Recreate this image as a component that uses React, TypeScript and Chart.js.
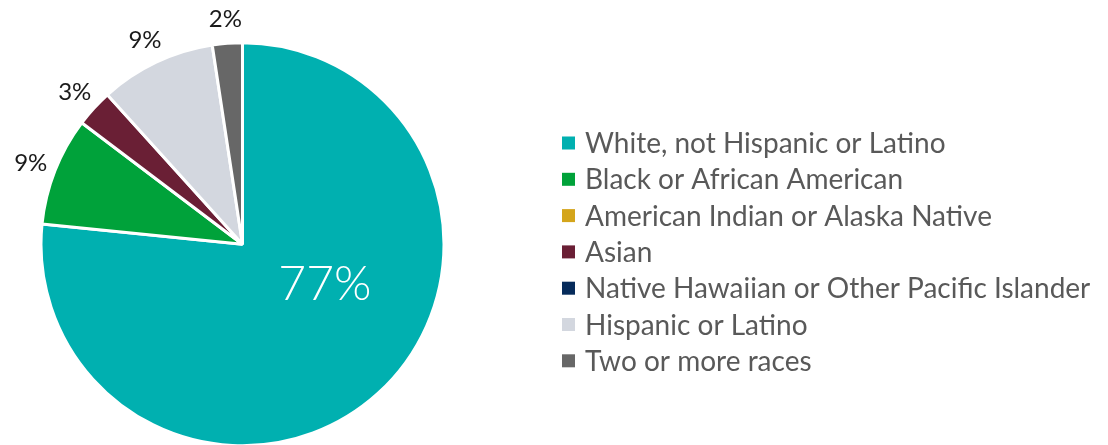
import React, { useEffect, useRef } from "react";
import { Chart, registerables } from "chart.js";
Chart.register(...registerables);

const categories = [
  "White, not Hispanic or Latino",
  "Black or African American",
  "American Indian or Alaska Native",
  "Asian",
  "Native Hawaiian or Other Pacific Islander",
  "Hispanic or Latino",
  "Two or more races",
];
const values = [76.6, 8.7, 0, 3.0, 0, 9.3, 2.4];
const valueLabels = ["77%", "9%", "", "3%", "", "9%", "2%"];
const colors = ["#00B0B0", "#00A23A", "#D4A51B", "#6A1F35", "#062B5B", "#D3D7DF", "#676767"];

const FONT = "Lato, 'Open Sans', sans-serif";

const labelPlugin = {
  id: "sliceLabels",
  afterDatasetsDraw(chart: any) {
    const ctx = chart.ctx;
    const meta = chart.getDatasetMeta(0);
    ctx.save();
    ctx.textAlign = "center";
    ctx.textBaseline = "middle";
    meta.data.forEach((arc: any, i: number) => {
      const text = valueLabels[i];
      if (!text || !values[i]) return;
      const { x, y, startAngle, endAngle, outerRadius } = arc.getProps(
        ["x", "y", "startAngle", "endAngle", "outerRadius"],
        true
      );
      if (i === 0) {
        const a = (116 - 90) * (Math.PI / 180);
        const d = outerRadius * 0.455;
        ctx.fillStyle = "#FFFFFF";
        ctx.font = `300 48px ${FONT}`;
        ctx.fillText(text, x + Math.cos(a) * d, y + Math.sin(a) * d);
      } else {
        const mid = (startAngle + endAngle) / 2;
        const d = outerRadius + 26;
        ctx.fillStyle = "#1a1a1a";
        ctx.font = `24px ${FONT}`;
        ctx.fillText(text, x + Math.cos(mid) * d, y + Math.sin(mid) * d + 2);
      }
    });
    ctx.restore();
  },
};

const legendPlugin = {
  id: "customLegend",
  afterDraw(chart: any) {
    const ctx = chart.ctx;
    const x0 = 562;
    const y0 = 143;
    const step = 36.3;
    ctx.save();
    ctx.textAlign = "left";
    ctx.textBaseline = "middle";
    ctx.font = `28px ${FONT}`;
    categories.forEach((c, i) => {
      const y = y0 + i * step;
      ctx.fillStyle = colors[i];
      ctx.fillRect(x0, y - 6.5, 13, 13);
      ctx.fillStyle = "#595959";
      ctx.fillText(c, x0 + 23, y + 1);
    });
    ctx.restore();
  },
};

export default function App() {
  const ref = useRef<HTMLCanvasElement>(null);
  useEffect(() => {
    document.body.style.margin = "0";
    const chart = new Chart(ref.current!, {
      type: "pie",
      data: {
        labels: categories,
        datasets: [
          {
            data: values,
            backgroundColor: colors,
            borderColor: "#FFFFFF",
            borderWidth: 3,
          },
        ],
      },
      options: {
        animation: false,
        responsive: false,
        maintainAspectRatio: false,
        radius: 201.5,
        layout: { padding: { left: 42, right: 665, top: 43.5, bottom: 0 } },
        plugins: {
          legend: { display: false },
          tooltip: { enabled: false },
        },
      } as any,
      plugins: [labelPlugin, legendPlugin],
    });
    return () => chart.destroy();
  }, []);
  return (
    <div style={{ position: "absolute", left: 0, top: 0, width: 1108, height: 445 }}>
      <canvas ref={ref} width={1108} height={445} style={{ width: 1108, height: 445 }} />
    </div>
  );
}
